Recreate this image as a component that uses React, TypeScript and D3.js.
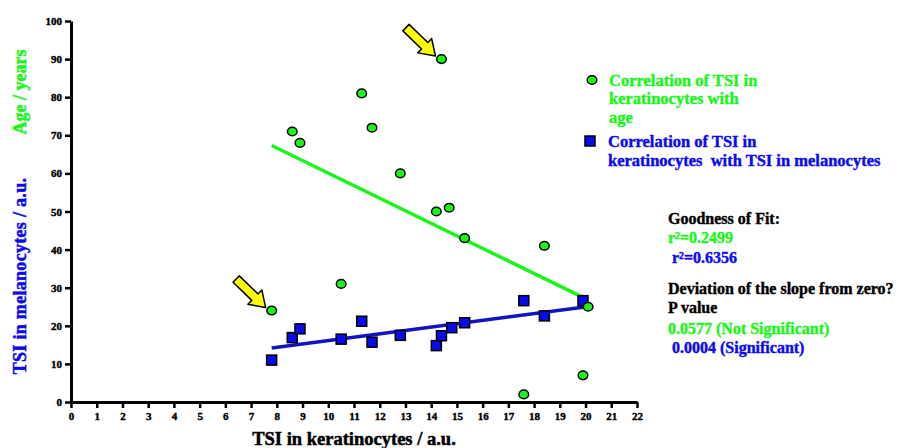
import React, { useEffect, useRef } from 'react';
import * as d3 from 'd3';

// TSI in keratinocytes (x) vs age (green) and vs TSI in melanocytes (blue)
const ageX = [7.8, 8.6, 8.9, 10.5, 11.3, 11.7, 12.8, 14.2, 14.4, 14.7, 15.3, 17.6, 18.4, 19.9, 20.1];
const ageY = [24, 71, 68, 31, 81, 72, 60, 50, 90, 51, 43, 2, 41, 7, 25];
const melX = [7.8, 8.6, 8.9, 10.5, 11.3, 11.7, 12.8, 14.2, 14.4, 14.8, 15.3, 17.6, 18.4, 19.9];
const melY = [11, 16.9, 19.2, 16.5, 21.2, 15.7, 17.5, 14.8, 17.4, 19.5, 20.8, 26.6, 22.6, 26.6];
// points marked by the yellow arrows (indices into the age series)
const arrowIdx = [0, 8];

const xTicks = d3.range(0, 23, 1);
const yTicks = d3.range(0, 101, 10);

const legendAge = ['Correlation of TSI in', 'keratinocytes with', 'age'];
const legendMel = ['Correlation of TSI in', 'keratinocytes  with TSI in melanocytes'];

const GREEN = '#1bf51b';
const BLUE = '#0a0af0';
const FONT = 'Liberation Serif, Times New Roman, serif';

function fit(xs: number[], ys: number[]) {
    const mx = d3.mean(xs) as number;
    const my = d3.mean(ys) as number;
    let sxy = 0, sxx = 0;
    xs.forEach((x, i) => { sxy += (x - mx) * (ys[i] - my); sxx += (x - mx) * (x - mx); });
    const slope = sxy / sxx;
    const x0 = d3.min(xs) as number, x1 = d3.max(xs) as number;
    return [[x0, my + slope * (x0 - mx)], [x1, my + slope * (x1 - mx)]] as [number, number][];
}

const App: React.FC = () => {
    const xAxisRef = useRef<SVGGElement | null>(null);
    const yAxisRef = useRef<SVGGElement | null>(null);

    const x = d3.scaleLinear().domain([0, 22]).range([71, 637]);
    const y = d3.scaleLinear().domain([0, 100]).range([402, 21]);

    useEffect(() => {
        const xa = d3.select(xAxisRef.current!)
            .call(d3.axisBottom(x).tickValues(xTicks).tickSize(6).tickSizeOuter(0).tickPadding(4));
        const ya = d3.select(yAxisRef.current!)
            .call(d3.axisLeft(y).tickValues(yTicks).tickSize(6).tickSizeOuter(0).tickPadding(3));
        [xa, ya].forEach(a => {
            a.attr('font-family', FONT).attr('font-size', 11).attr('font-weight', 'bold');
            a.select('.domain').attr('stroke', '#000').attr('stroke-width', 3);
            a.selectAll('.tick line').attr('stroke', '#000').attr('stroke-width', 2.5);
            a.selectAll('.tick text')
                .attr('fill', '#000')
                .attr('stroke', '#000')
                .attr('stroke-width', 0.4);
        });
    }, []);

    const line = d3.line<[number, number]>().x(d => x(d[0])).y(d => y(d[1]));
    const ageFit = fit(ageX, ageY);
    const melFit = fit(melX, melY);

    const arrow = 'M0,0 L-15,-10 L-15,-4.5 L-41,-4.5 L-41,4.5 L-15,4.5 L-15,10 Z';

    return (
        <svg width={899} height={448} fontFamily={FONT} fontWeight="bold"
            style={{ position: 'absolute', left: 0, top: 0, background: '#fff' }}>
            <g ref={xAxisRef} transform={`translate(0,${y(0)})`} />
            <g ref={yAxisRef} transform={`translate(${x(0)},0)`} />

            <path d={line(ageFit) as string} stroke={GREEN} strokeWidth={3.5} fill="none" />
            <path d={line(melFit) as string} stroke="#1212c0" strokeWidth={3.5} fill="none" />

            {melX.map((v, i) => (
                <rect key={'m' + i} x={x(v) - 5} y={y(melY[i]) - 5} width={10} height={10}
                    fill={BLUE} stroke="#000" strokeWidth={1.5} />
            ))}
            {ageX.map((v, i) => (
                <ellipse key={'a' + i} cx={x(v)} cy={y(ageY[i])} rx={4.8} ry={4.3}
                    fill={GREEN} stroke="#000" strokeWidth={1.5} />
            ))}

            {arrowIdx.map(i => (
                <path key={'arr' + i} d={arrow}
                    transform={`translate(${x(ageX[i]) - 6},${y(ageY[i]) - 3}) rotate(44)`}
                    fill="#ffff00" stroke="#000" strokeWidth={1.5} strokeLinejoin="round" />
            ))}

            {/* axis titles */}
            <text transform={`translate(26,92) rotate(-90)`} textAnchor="middle" fill={GREEN}
                fontSize={18} stroke={GREEN} strokeWidth={0.5}>Age / years</text>
            <text transform={`translate(26,276) rotate(-90)`} textAnchor="middle" fill={BLUE}
                fontSize={18} letterSpacing={0.3} stroke={BLUE} strokeWidth={0.5}>TSI in melanocytes / a.u.</text>
            <text x={354} y={445} textAnchor="middle" fill="#000" fontSize={18.5}
                stroke="#000" strokeWidth={0.5}>TSI in keratinocytes / a.u.</text>

            {/* legend */}
            <ellipse cx={592} cy={80} rx={4.8} ry={4.3} fill={GREEN} stroke="#000" strokeWidth={1.5} />
            {legendAge.map((t, i) => (
                <text key={'la' + i} x={609} y={80 + i * 18.5} dy="0.35em" fill={GREEN} fontSize={16.5}
                    stroke={GREEN} strokeWidth={0.4}>{t}</text>
            ))}
            <rect x={585} y={136} width={10} height={10} fill={BLUE} stroke="#000" strokeWidth={1.5} />
            {legendMel.map((t, i) => (
                <text key={'lm' + i} x={608} y={141 + i * 19} dy="0.35em" fill={BLUE} fontSize={16.5}
                    stroke={BLUE} strokeWidth={0.4} xmlSpace="preserve">{t}</text>
            ))}

            {/* fit statistics */}
            <g fontSize={16}>
                <text x={668} y={218} dy="0.35em" fill="#000" stroke="#000" strokeWidth={0.4}>Goodness of Fit:</text>
                <text x={668} y={237} dy="0.35em" fill={GREEN} stroke={GREEN} strokeWidth={0.4}>r²=0.2499</text>
                <text x={672} y={257} dy="0.35em" fill={BLUE} stroke={BLUE} strokeWidth={0.4}>r²=0.6356</text>
                <text x={668} y={288} dy="0.35em" fill="#000" stroke="#000" strokeWidth={0.4}>Deviation of the slope from zero?</text>
                <text x={668} y={307} dy="0.35em" fill="#000" stroke="#000" strokeWidth={0.4}>P value</text>
                <text x={668} y={328} dy="0.35em" fill={GREEN} stroke={GREEN} strokeWidth={0.4}>0.0577 (Not Significant)</text>
                <text x={672} y={347} dy="0.35em" fill={BLUE} stroke={BLUE} strokeWidth={0.4}>0.0004 (Significant)</text>
            </g>
        </svg>
    );
};

export default App;
